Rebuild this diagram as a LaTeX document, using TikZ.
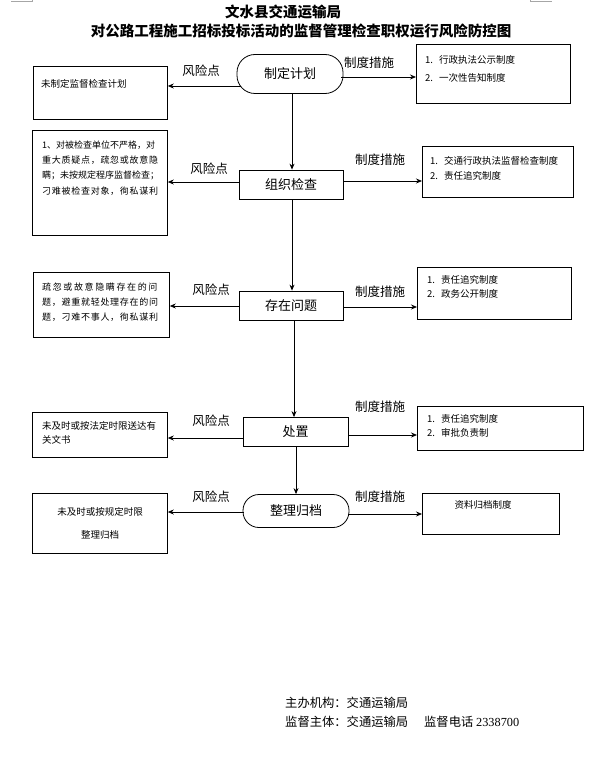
\documentclass[tikz,border=0pt]{standalone}
\usepackage{fontspec}
\setmainfont{Noto Sans CJK SC}
\newfontfamily\numfont{Liberation Serif}
\usetikzlibrary{arrows.meta}
\begin{document}
\begin{tikzpicture}[x=1pt,y=-1pt,
  box/.style={draw, line width=0.8pt, anchor=north west, inner sep=0pt},
  proc/.style={draw, line width=0.8pt, minimum width=104pt, minimum height=29pt, inner sep=0pt, font=\fontsize{13}{13}\selectfont},
  term/.style={proc, rounded corners=18pt, minimum height=39pt},
  arr/.style={line width=0.8pt, -{Stealth[length=6pt,width=5pt]}},
  lbl/.style={font=\fontsize{12.5}{12.5}\selectfont, inner sep=0pt},
  txt/.style={font=\fontsize{9.5}{9.5}\selectfont, inner sep=0pt, anchor=west},
  ltxt/.style={font=\fontsize{9}{9}\selectfont, inner sep=0pt, anchor=west},
  cropmark/.style={draw=gray!70, line width=0.8pt}
]
\useasboundingbox (0,0) rectangle (598,773);
% corner marks
\coordinate (c1) at (11,1); \coordinate (c2) at (32,1); \coordinate (c3) at (32,0);
\draw[cropmark] (c1) -- (c2) -- (c3);
\coordinate (c4) at (552,1); \coordinate (c5) at (530,1); \coordinate (c6) at (530,0);
\draw[cropmark] (c4) -- (c5) -- (c6);
% titles
\node[font=\fontsize{14.5}{14.5}\selectfont\bfseries, inner sep=0pt] (t1) at (283,12) {文水县交通运输局};
\node[font=\fontsize{14.5}{14.5}\selectfont\bfseries, inner sep=0pt] (t2) at (301,31) {对公路工程施工招标投标活动的监督管理检查职权运行风险防控图};

% ---------- row 1
\node[term, minimum width=106pt] (n1) at (290,74) {制定计划};
\node[box, minimum width=134pt, minimum height=53pt] (l1) at (33,66) {};
\node[txt] (l1t) at (41,84) {未制定监督检查计划};
\node[box, minimum width=154pt, minimum height=59pt] (r1) at (416,44) {};
\node[txt] (r1a) at (425,60) {1.\hspace{6pt}行政执法公示制度};
\node[txt] (r1b) at (425,78) {2.\hspace{6pt}一次性告知制度};
\node[lbl] (k1) at (201,71) {风险点};
\node[lbl] (m1) at (369,63) {制度措施};
\draw[arr] ([xshift=4pt]n1.west |- 0,86) -- (l1.east |- 0,86);
\draw[arr] ([xshift=-2pt]n1.east |- 0,77) -- (r1.west |- 0,77);

% ---------- row 2
\node[proc] (n2) at (291,184.5) {组织检查};
\node[box, minimum width=135pt, minimum height=105pt] (l2) at (32,130) {};
\node[ltxt] (l2a) at (42,145) {1、对被检查单位不严格，对};
\node[ltxt] (l2b) at (42,160) {\addfontfeature{LetterSpace=8}重大质疑点，疏忽或故意隐};
\node[ltxt] (l2c) at (42,175) {瞒；未按规定程序监督检查；};
\node[ltxt] (l2d) at (42,191) {\addfontfeature{LetterSpace=8}刁难被检查对象，徇私谋利};
\node[box, minimum width=151pt, minimum height=51pt] (r2) at (422,146) {};
\node[txt] (r2a) at (430,161) {1.\hspace{6pt}交通行政执法监督检查制度};
\node[txt] (r2b) at (430,176) {2.\hspace{6pt}责任追究制度};
\node[lbl] (k2) at (209,169) {风险点};
\node[lbl] (m2) at (380,160) {制度措施};
\draw[arr] (n2.west |- 0,182) -- (l2.east |- 0,182);
\draw[arr] (n2.east |- 0,181) -- (r2.west |- 0,181);

% ---------- row 3
\node[proc] (n3) at (291,305.5) {存在问题};
\node[box, minimum width=136pt, minimum height=65pt] (l3) at (33,272) {};
\node[ltxt] (l3a) at (42,287) {\addfontfeature{LetterSpace=18}疏忽或故意隐瞒存在的问};
\node[ltxt] (l3b) at (42,302) {\addfontfeature{LetterSpace=8}题，避重就轻处理存在的问};
\node[ltxt] (l3c) at (42,317) {\addfontfeature{LetterSpace=8}题，刁难不事人，徇私谋利};
\node[box, minimum width=154pt, minimum height=52pt] (r3) at (417,267) {};
\node[txt] (r3a) at (427,280) {1.\hspace{6pt}责任追究制度};
\node[txt] (r3b) at (427,294) {2.\hspace{6pt}政务公开制度};
\node[lbl] (k3) at (211,290) {风险点};
\node[lbl] (m3) at (380,292) {制度措施};
\draw[arr] (n3.west |- 0,306) -- (l3.east |- 0,306);
\draw[arr] (n3.east |- 0,307) -- (r3.west |- 0,307);

% ---------- row 4
\node[proc, minimum width=105pt] (n4) at (295.5,432) {处置};
\node[box, minimum width=135pt, minimum height=45pt] (l4) at (32,412) {};
\node[txt] (l4a) at (42,426) {未及时或按法定时限送达有};
\node[txt] (l4b) at (42,440) {关文书};
\node[box, minimum width=166pt, minimum height=44pt] (r4) at (417,406) {};
\node[txt] (r4a) at (427,419) {1.\hspace{6pt}责任追究制度};
\node[txt] (r4b) at (427,433) {2.\hspace{6pt}审批负责制};
\node[lbl] (k4) at (211,421) {风险点};
\node[lbl] (m4) at (380,407) {制度措施};
\draw[arr] (n4.west |- 0,438) -- (l4.east |- 0,438);
\draw[arr] (n4.east |- 0,435) -- (r4.west |- 0,435);

% ---------- row 5
\node[term, minimum width=106pt, minimum height=33pt, rounded corners=16pt] (n5) at (296,511) {整理归档};
\node[box, minimum width=135pt, minimum height=60pt] (l5) at (32,493) {};
\node[txt, anchor=center] (l5a) at (100,512) {未及时或按规定时限};
\node[txt, anchor=center] (l5b) at (100,535) {整理归档};
\node[box, minimum width=137pt, minimum height=41pt] (r5) at (422,493) {};
\node[txt, anchor=center] (r5a) at (483,505) {资料归档制度};
\node[lbl] (k5) at (211,497) {风险点};
\node[lbl] (m5) at (380,497) {制度措施};
\draw[arr] ([xshift=1pt]n5.west |- 0,512) -- (l5.east |- 0,512);
\draw[arr] ([xshift=-1pt]n5.east |- 0,514) -- (r5.west |- 0,514);

% ---------- vertical flow
\draw[arr] (n1.south -| 292,0) -- (n2.north -| 292,0);
\draw[arr] (n2.south -| 292,0) -- (n3.north -| 292,0);
\draw[arr] (n3.south -| 294,0) -- (n4.north -| 294,0);
\draw[arr] (n4.south -| 296,0) -- (n5.north -| 296,0);

% ---------- footer
\node[font=\fontsize{12.3}{12.3}\selectfont, anchor=west, inner sep=0pt] (f1) at (285,703) {主办机构：交通运输局};
\node[font=\fontsize{12.3}{12.3}\selectfont, anchor=west, inner sep=0pt] (f2) at (285,722) {监督主体：交通运输局\hspace{16pt}监督电话 {\numfont 2338700}};
\end{tikzpicture}
\end{document}
